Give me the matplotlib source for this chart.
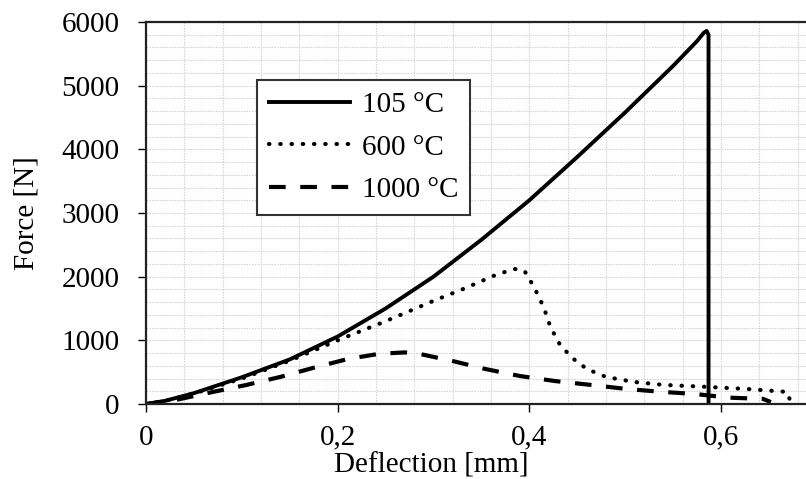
import matplotlib
matplotlib.use('Agg')
import matplotlib.pyplot as plt
from matplotlib.ticker import MultipleLocator

# 105 °C
x105 = [0, 0.02, 0.05, 0.1, 0.15, 0.2, 0.25, 0.3, 0.35, 0.4, 0.45, 0.5, 0.55, 0.575, 0.582, 0.585, 0.587, 0.587]
f105 = [0, 50, 170, 420, 700, 1060, 1500, 2000, 2580, 3200, 3880, 4580, 5310, 5700, 5830, 5860, 5800, 0]

# 600 °C
x600 = [0, 0.02, 0.05, 0.1, 0.15, 0.2, 0.25, 0.3, 0.33, 0.367, 0.385, 0.395, 0.405, 0.415,
        0.422, 0.432, 0.445, 0.46, 0.48, 0.51, 0.54, 0.584, 0.628, 0.669, 0.672]
f600 = [0, 50, 165, 400, 680, 1000, 1300, 1620, 1800, 2040, 2120, 2090, 1835, 1520,
        1210, 930, 720, 550, 425, 345, 300, 270, 235, 190, 60]

# 1000 °C
x1000 = [0, 0.03, 0.07, 0.105, 0.14, 0.174, 0.21, 0.244, 0.27, 0.286, 0.32, 0.354, 0.39,
         0.427, 0.464, 0.502, 0.539, 0.573, 0.608, 0.644, 0.652]
f1000 = [0, 60, 190, 300, 425, 565, 705, 790, 810, 785, 675, 550, 440,
         360, 300, 235, 190, 157, 100, 80, 30]

xticks = [0, 0.2, 0.4, 0.6]
xticklabels = ['0', '0,2', '0,4', '0,6']
yticks = [0, 1000, 2000, 3000, 4000, 5000, 6000]

plt.rcParams['font.family'] = ['Liberation Serif', 'DejaVu Serif']
plt.rcParams['font.size'] = 21

fig = plt.figure(figsize=(8.06, 4.79), dpi=100)
ax = fig.add_axes([146 / 806, 1 - 404 / 479, 660 / 806, 382 / 479])

ax.plot(x105, f105, color='black', lw=2.8, solid_joinstyle='round', label='105 °C')
ax.plot(x600, f600, color='black', lw=3, linestyle=(0, (0.1, 2.6)),
        dash_capstyle='round', label='600 °C')
ax.plot(x1000, f1000, color='black', lw=3, linestyle=(0, (4, 3.5)), label='1000 °C')

ax.set_xlim(0, 0.6887)
ax.set_ylim(0, 6000)
ax.set_xticks(xticks)
ax.set_xticklabels(xticklabels)
ax.set_yticks(yticks)
ax.xaxis.set_minor_locator(MultipleLocator(0.04))
ax.yaxis.set_minor_locator(MultipleLocator(200))
ax.tick_params(which='major', direction='out', length=6, width=1)
ax.tick_params(axis='x', which='major', pad=9)
ax.tick_params(axis='y', which='major', pad=13)
ax.tick_params(which='minor', length=0)

ax.grid(which='both', color='#d6d6d6', linestyle=(0, (1.5, 1)), lw=0.8)
ax.set_axisbelow(True)

for s in ['left', 'bottom', 'top']:
    ax.spines[s].set_linewidth(1.6)
    ax.spines[s].set_color('#222222')
ax.spines['right'].set_visible(False)

ax.set_xlabel('Deflection [mm]')
ax.xaxis.set_label_coords((431 - 146) / 660, -0.128)
ax.set_ylabel('Force [N]')
ax.yaxis.set_label_coords(-0.162, 0.5)

leg = ax.legend(loc='upper left', bbox_to_anchor=(0.168, 0.848), borderaxespad=0,
                fancybox=False, framealpha=1, edgecolor='#333333',
                handlelength=2.8, handletextpad=0.4, labelspacing=0.55,
                borderpad=0.4)
leg.get_frame().set_linewidth(1.5)

fig.savefig('out.png', dpi=100)
